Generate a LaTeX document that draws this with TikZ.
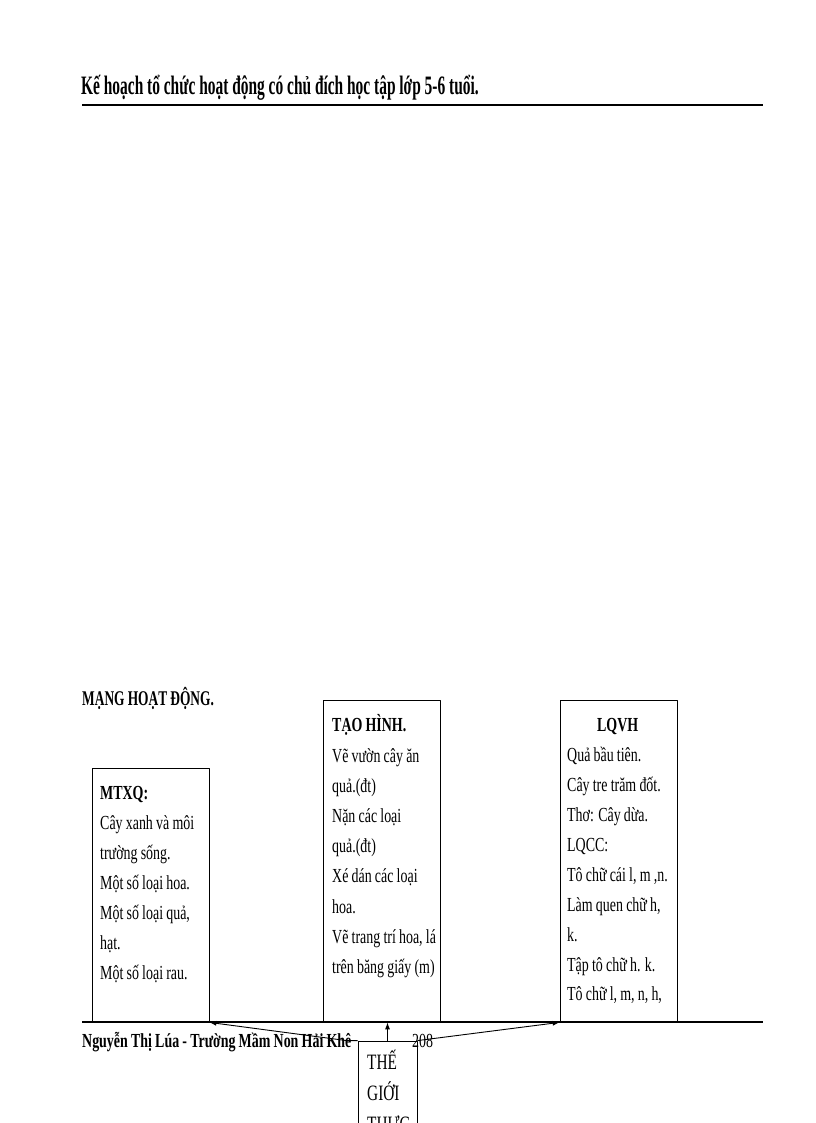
\documentclass[tikz,border=0pt]{standalone}
\usepackage{fontspec}
\usetikzlibrary{arrows.meta}
\setmainfont{Liberation Serif}
\newfontfamily\narrowfont[FakeStretch=0.7]{Liberation Serif}
\newfontfamily\headfont[FakeStretch=0.64]{Liberation Serif}
\newfontfamily\titlefont[FakeStretch=0.58]{Liberation Serif}
\newcommand\tightwords{\spaceskip=3.2pt\relax}
\begin{document}
\begin{tikzpicture}[>={Latex[length=7bp,width=5bp]},line join=bevel,
  box/.style={draw,line width=0.8bp,minimum width=117bp},
  lines/.style={anchor=base west,inner sep=0pt,text width=200bp,align=flush left,font=\narrowfont\fontsize{20}{30}\selectfont\tightwords},
  link/.style={black,line width=0.9bp,->}]
%%
\clip (0bp,0bp) rectangle (816bp,1123bp);
\node (title) at (81bp,1028bp) [anchor=base west,inner sep=0pt] {\titlefont\bfseries\fontsize{26.7}{30}\selectfont Kế hoạch tổ chức hoạt động có chủ đích học tập lớp  5-6 tuổi.};
  \draw [black,line width=2bp] (82bp,1018bp) -- (763bp,1018bp);
  \node (heading) at (82bp,417bp) [anchor=base west,inner sep=0pt] {\headfont\bfseries\fontsize{21}{30}\selectfont\tightwords MẠNG HOẠT ĐỘNG.};
%
  \node (node_0) at (150.5bp,228bp) [box,minimum height=254bp] {};
  \node (node_1) at (381.5bp,262bp) [box,minimum height=322bp] {};
  \node (node_2) at (618.5bp,262bp) [box,minimum height=322bp] {};
  \node (node_3) at (387.5bp,31bp) [box,minimum width=59bp,minimum height=102bp] {};
%
  \node (text_0) at (100bp,323bp) [lines] {\textbf{MTXQ:}\\Cây xanh và môi\\trường sống.\\Một số loại hoa.\\Một số loại quả,\\hạt.\\Một số loại rau.};
  \node (text_1) at (332bp,391bp) [lines,font=\narrowfont\fontsize{20}{30.3}\selectfont\tightwords] {\textbf{TẠO HÌNH.}\\Vẽ vườn cây ăn\\quả.(đt)\\Nặn các loại\\quả.(đt)\\Xé dán các loại\\hoa.\\Vẽ trang trí hoa, lá\\trên băng giấy  (m)};
  \node (text_2) at (567bp,391bp) [lines] {\makebox[101bp]{\textbf{LQVH}}\\Quả bầu tiên.\\Cây tre trăm đốt.\\Thơ: Cây dừa.\\LQCC:\\Tô chữ cái l, m ,n.\\Làm quen chữ h,\\k.\\Tập tô chữ h. k.\\Tô chữ l, m, n, h,};
  \node (text_3) at (367bp,53bp) [lines,text width=100bp,font=\narrowfont\fontsize{22}{31}\selectfont] {THẾ\\GIỚI\\THỰC};
%
  \draw [black,line width=1.2bp] (82bp,101bp) -- (763bp,101bp);
  \node (footer) at (82bp,75bp) [anchor=base west,inner sep=0pt] {\narrowfont\bfseries\fontsize{20}{30}\selectfont\tightwords Nguyễn Thị Lúa - Trường Mầm Non Hải Khê};
  \node (page) at (412bp,75bp) [anchor=base west,inner sep=0pt] {\narrowfont\fontsize{20}{30}\selectfont 208};
%
  \draw [link] (node_3.north west) -- ([xshift=-11bp]node_3.north west) -- (node_0.south east);
  \draw [link] (node_3.north) -- (node_3.north |- node_1.south);
  \draw [link] (node_3.north east) -- (node_2.south west);
%
\end{tikzpicture}
\end{document}
